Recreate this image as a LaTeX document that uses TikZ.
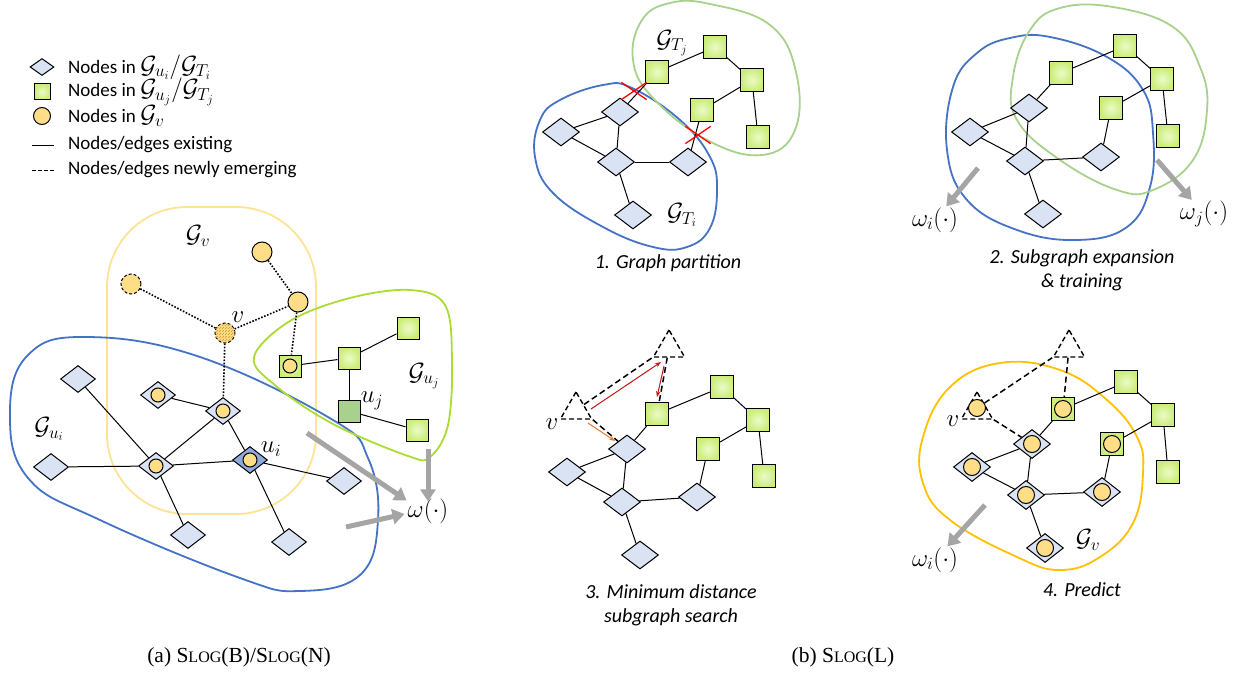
\documentclass[tikz,border=0pt]{standalone}
\usepackage{fontspec}
\setmainfont{Liberation Serif}
\newfontfamily\carl{Carlito}
\usetikzlibrary{shapes.geometric,shapes.misc,arrows.meta,patterns}
\definecolor{diaC}{RGB}{218,227,243}
\definecolor{diaD}{RGB}{143,170,220}
\definecolor{sqI}{RGB}{236,251,200}
\definecolor{sqO}{RGB}{203,237,122}
\definecolor{sqD}{RGB}{169,209,142}
\definecolor{cirC}{RGB}{255,222,135}
\definecolor{blueR}{RGB}{68,114,196}
\definecolor{limeR}{RGB}{170,220,50}
\definecolor{greenR}{RGB}{169,209,142}
\definecolor{yelR}{RGB}{255,226,150}
\definecolor{orR}{RGB}{255,192,0}
\definecolor{grayA}{RGB}{165,165,165}
\definecolor{hatchC}{RGB}{205,150,40}
\definecolor{redA}{RGB}{200,20,20}
\definecolor{orA}{RGB}{237,125,49}
\tikzset{
  dia/.style={diamond, draw, fill=diaC, line width=1pt, minimum width=35pt, minimum height=27pt, inner sep=0pt},
  sq/.style={rectangle, draw, inner color=sqI, outer color=sqO, line width=1pt, minimum size=22pt, inner sep=0pt},
  cir/.style={circle, draw, fill=cirC, line width=1pt, minimum size=20pt, inner sep=0pt},
  cirS/.style={circle, draw, fill=cirC, line width=1pt, minimum size=14pt, inner sep=0pt},
  tri/.style={regular polygon, regular polygon sides=3, draw, dashed, line width=1.4pt, dash pattern=on 5pt off 3pt, minimum size=36pt, inner sep=0pt},
  lnk/.style={line width=1pt},
  dotlnk/.style={line width=1.6pt, dash pattern=on 1.6pt off 1.6pt},
  dlnk/.style={line width=1.5pt, dash pattern=on 6pt off 3.5pt},
  region/.style={line width=1.8pt},
  garrow/.style={line width=5pt, draw=grayA, -{Triangle[length=12pt,width=15pt]}},
  txt/.style={font=\carl\fontsize{19}{22}\selectfont, inner sep=1pt},
  captxt/.style={font=\carl\itshape\fontsize{20}{24}\selectfont, align=center, inner sep=1pt},
  lbl/.style={font=\fontsize{23}{27}\selectfont, inner sep=1pt},
  capt/.style={font=\fontsize{21.5}{26}\selectfont, inner sep=1pt},
  xmark/.style={cross out, draw=red, line width=1.3pt, minimum width=24pt, minimum height=16pt, inner sep=0pt}
}
\newcommand{\slogname}{S{\fontsize{16}{18}\selectfont LOG}}
\newcommand{\legmath}[1]{{\fontsize{23}{24}\selectfont$#1$}}
\begin{document}
\begin{tikzpicture}[x=1pt,y=-1pt]
\useasboundingbox (0,0) rectangle (1238,674);

% ================= legend =================
\node[dia, minimum width=24pt, minimum height=17pt] (ld) at (42,67) {};
\node[txt, anchor=west] (lt1) at (67,67) {Nodes in \legmath{\mathcal{G}_{u_i}/\mathcal{G}_{T_i}}};
\node[sq, minimum size=16pt] (ls) at (42,92) {};
\node[txt, anchor=west] (lt2) at (67,92) {Nodes in \legmath{\mathcal{G}_{u_j}/\mathcal{G}_{T_j}}};
\node[cir, minimum size=17pt] (lc) at (42,116) {};
\node[txt, anchor=west] (lt3) at (67,116) {Nodes in \legmath{\mathcal{G}_v}};
\coordinate (la1) at (32,145); \coordinate (lb1) at (54,145);
\draw[lnk] (la1) -- (lb1);
\node[txt, anchor=west] (lt4) at (67,145) {Nodes/edges existing};
\coordinate (la2) at (32,170); \coordinate (lb2) at (54,170);
\draw[lnk, dash pattern=on 3.5pt off 2.5pt] (la2) -- (lb2);
\node[txt, anchor=west] (lt5) at (67,170) {Nodes/edges newly emerging};

% ================= panel (a) =================
\draw[region, draw=yelR, rounded corners=80pt] (107,207) rectangle (316,514);
\draw[region, draw=blueR] plot[smooth cycle, tension=0.7] coordinates {(87,337) (200,357) (333,420) (368,458) (378,520) (360,575) (300,591) (240,578) (100,520) (28,478) (10,413) (28,355)};
\draw[region, draw=limeR] plot[smooth cycle, tension=0.6] coordinates {(254,357) (290,321) (350,298) (410,290) (445,305) (452,360) (448,425) (430,457) (408,456) (333,424) (276,386)};

\node[cir] (c1) at (262,252) {};
\node[cir] (c2) at (298,302) {};
\node[cir, dashed, dash pattern=on 3pt off 2pt] (c3) at (131,284) {};
\node[cir, dashed, dash pattern=on 3pt off 2pt, postaction={pattern=north east lines, pattern color=hatchC}] (cv) at (225,333) {};

\node[sq] (s1) at (290,366) {}; \node[cirS] (s1c) at (290,366) {};
\node[sq] (s2) at (349,358) {};
\node[sq] (s3) at (408,328) {};
\node[sq, inner color=sqD, outer color=sqD] (suj) at (349,411) {};
\node[sq] (s4) at (417,430) {};

\node[dia] (d1) at (78,379) {};
\node[dia] (d2) at (158,395) {}; \node[cirS] (d2c) at (158,395) {};
\node[dia] (d3) at (223,411) {}; \node[cirS] (d3c) at (223,411) {};
\node[dia] (d4) at (51,467) {};
\node[dia] (d5) at (156,466) {}; \node[cirS] (d5c) at (156,466) {};
\node[dia, fill=diaD] (dui) at (250,460) {}; \node[cirS] (duic) at (250,460) {};
\node[dia] (d6) at (344,481) {};
\node[dia] (d7) at (188,535) {};
\node[dia] (d8) at (289,542) {};

\draw[dotlnk] (c1) -- (c2);
\draw[dotlnk] (c3) -- (cv);
\draw[dotlnk] (cv) -- (c2);
\draw[dotlnk] (c2) -- (s1);
\draw[dotlnk] (cv) -- (d3);

\draw[lnk] (s1) -- (s2);
\draw[lnk] (s2) -- (s3);
\draw[lnk] (s2) -- (suj);
\draw[lnk] (suj) -- (s4);

\draw[lnk] (d1) -- (d5);
\draw[lnk] (d2) -- (d3);
\draw[lnk] (d3) -- (d5);
\draw[lnk] (d3) -- (dui);
\draw[lnk] (d4) -- (d5);
\draw[lnk] (d5) -- (dui);
\draw[lnk] (dui) -- (d6);
\draw[lnk] (d5) -- (d7);
\draw[lnk] (dui) -- (d8);

\node[lbl] (lv) at (238,317) {$v$};
\node[lbl] (lgv) at (198,236) {$\mathcal{G}_v$};
\node[lbl] (lgui) at (49,429) {$\mathcal{G}_{u_i}$};
\node[lbl] (lguj) at (424,376) {$\mathcal{G}_{u_j}$};
\node[lbl] (luj) at (372,401) {$u_j$};
\node[lbl] (lui) at (271,449) {$u_i$};
\node[lbl] (om) at (428,511) {$\omega(\cdot)$};

\coordinate (ga1) at (307,433);
\coordinate (ga2) at (428,449);
\coordinate (ga3) at (346,527);
\draw[garrow] (ga1) -- ([yshift=-3pt]om.north west);
\draw[garrow] (ga2) -- ([xshift=0pt,yshift=-4pt]om.north);
\draw[garrow] (ga3) -- ([xshift=-2pt,yshift=-3pt]om.west);

\node[capt] (capa) at (239,657) {(a) \slogname(B)/\slogname(N)};

% ================= panel 1 =================
\draw[region, draw=blueR] plot[smooth cycle, tension=0.7] coordinates {(560,100) (603,85) (632,88) (680,120) (710,157) (717,190) (710,228) (687,247) (653,247) (603,227) (553,193) (535,157) (540,120)};
\draw[region, draw=greenR] plot[smooth cycle, tension=0.7] coordinates {(633,60) (642,20) (670,3) (710,4) (770,25) (796,72) (795,130) (762,155) (707,140) (653,98)};

\node[sq, minimum size=23pt] (s11) at (657,72) {};
\node[sq, minimum size=23pt] (s12) at (715,47) {};
\node[sq, minimum size=23pt] (s13) at (752,80) {};
\node[sq, minimum size=23pt] (s14) at (702,110) {};
\node[sq, minimum size=23pt] (s15) at (758,137) {};
\node[dia, minimum width=37pt, minimum height=28pt] (d11) at (620,112) {};
\node[dia, minimum width=37pt, minimum height=28pt] (d12) at (561,132) {};
\node[dia, minimum width=37pt, minimum height=28pt] (d13) at (616,162) {};
\node[dia, minimum width=37pt, minimum height=28pt] (d14) at (688,162) {};
\node[dia, minimum width=37pt, minimum height=28pt] (d15) at (633,215) {};
\draw[lnk] (s11) -- (s12);
\draw[lnk] (s12) -- (s13);
\draw[lnk] (s13) -- (s14);
\draw[lnk] (s13) -- (s15);
\draw[lnk] (d12) -- (d11);
\draw[lnk] (d12) -- (d13);
\draw[lnk] (d11) -- (d13);
\draw[lnk] (d13) -- (d14);
\draw[lnk] (d13) -- (d15);
\draw[lnk] (d11) -- (s11);
\draw[lnk] (d14) -- (s14);
\node[xmark] (x1) at (634,91) {};
\node[xmark] (x2) at (698,135) {};
\node[lbl] (lgtj) at (672,43) {$\mathcal{G}_{T_j}$};
\node[lbl] (lgti) at (682,215) {$\mathcal{G}_{T_i}$};
\node[captxt] (cap1) at (668,263) {1. Graph partition};

% ================= panel 2 =================
\draw[region, draw=blueR] plot[smooth cycle, tension=0.7] coordinates {(1010,38) (1050,37) (1107,57) (1143,90) (1153,133) (1150,187) (1127,227) (1077,240) (1017,230) (967,200) (947,150) (953,87) (977,53)};
\draw[region, draw=greenR] plot[smooth cycle, tension=0.7] coordinates {(1013,77) (1030,30) (1060,8) (1113,7) (1173,27) (1200,67) (1207,110) (1193,160) (1153,190) (1117,190) (1060,160) (1017,120)};

\node[sq, minimum size=23pt] (s21) at (1061,73) {};
\node[sq, minimum size=23pt] (s22) at (1125,46) {};
\node[sq, minimum size=23pt] (s23) at (1162,79) {};
\node[sq, minimum size=23pt] (s24) at (1111,108) {};
\node[sq, minimum size=23pt] (s25) at (1168,136) {};
\node[dia, minimum width=37pt, minimum height=28pt] (d21) at (1029,108) {};
\node[dia, minimum width=37pt, minimum height=28pt] (d22) at (970,132) {};
\node[dia, minimum width=37pt, minimum height=28pt] (d23) at (1025,161) {};
\node[dia, minimum width=37pt, minimum height=28pt] (d24) at (1101,157) {};
\node[dia, minimum width=37pt, minimum height=28pt] (d25) at (1043,214) {};
\draw[lnk] (s21) -- (s22);
\draw[lnk] (s22) -- (s23);
\draw[lnk] (s23) -- (s24);
\draw[lnk] (s23) -- (s25);
\draw[lnk] (d21) -- (s21);
\draw[lnk] (d22) -- (d21);
\draw[lnk] (d22) -- (d23);
\draw[lnk] (d21) -- (d23);
\draw[lnk] (d23) -- (d24);
\draw[lnk] (d24) -- (s24);
\draw[lnk] (d23) -- (d25);
\node[lbl] (om2i) at (935,220) {$\omega_i(\cdot)$};
\node[lbl] (om2j) at (1204,214) {$\omega_j(\cdot)$};
\coordinate (gb1) at (978,168);
\coordinate (gb2) at (1157,160);
\draw[garrow] (gb1) -- (om2i);
\draw[garrow] (gb2) -- (om2j);
\node[captxt] (cap2) at (1082,270) {2. Subgraph expansion\\\& training};

% ================= panel 3 =================
\node[sq, minimum size=23pt] (s31) at (657,414) {};
\node[sq, minimum size=23pt] (s32) at (722,387) {};
\node[sq, minimum size=23pt] (s33) at (758,420) {};
\node[sq, minimum size=23pt] (s34) at (708,449) {};
\node[sq, minimum size=23pt] (s35) at (764,476) {};
\node[dia, minimum width=37pt, minimum height=28pt] (d31) at (627,449) {};
\node[dia, minimum width=37pt, minimum height=28pt] (d32) at (567,472) {};
\node[dia, minimum width=37pt, minimum height=28pt] (d33) at (622,502) {};
\node[dia, minimum width=37pt, minimum height=28pt] (d34) at (697,497) {};
\node[dia, minimum width=37pt, minimum height=28pt] (d35) at (640,555) {};
\node[tri] (t3) at (669,348) {};
\node[tri] (v3) at (576,410) {};
\draw[lnk] (d31) -- (s31);
\draw[lnk] (s31) -- (s32);
\draw[lnk] (s32) -- (s33);
\draw[lnk] (s33) -- (s34);
\draw[lnk] (s33) -- (s35);
\draw[lnk] (d32) -- (d31);
\draw[lnk] (d32) -- (d33);
\draw[lnk] (d31) -- (d33);
\draw[lnk] (d33) -- (d34);
\draw[lnk] (d34) -- (s34);
\draw[lnk] (d33) -- (d35);
\draw[dlnk] (v3) -- (t3.corner 2);
\draw[dlnk] (t3) -- (s31);
\draw[dlnk] (v3.corner 3) -- (d31);
\coordinate (r1s) at (591,409); \coordinate (r1e) at (661,362);
\coordinate (r2s) at (664,366); \coordinate (r2e) at (657,397);
\coordinate (o1s) at (588,423); \coordinate (o1e) at (615,441);
\draw[redA, line width=1pt, -{Stealth[length=6pt,width=4.5pt]}] (r1s) -- (r1e);
\draw[redA, line width=1pt, -{Stealth[length=6pt,width=4.5pt]}] (r2s) -- (r2e);
\draw[orA, line width=1pt, -{Stealth[length=6pt,width=4.5pt]}] (o1s) -- (o1e);
\node[lbl] (lv3) at (552,424) {$v$};
\node[captxt] (cap3) at (671,605) {3. Minimum distance\\subgraph search};

% ================= panel 4 =================
\draw[region, draw=orR] plot[smooth cycle, tension=0.7] coordinates {(923,437) (950,387) (1000,363) (1060,370) (1107,400) (1137,437) (1143,473) (1133,523) (1100,557) (1060,570) (1017,557) (950,520) (923,483)};

\node[sq, minimum size=23pt] (s41) at (1063,409) {}; \node[cirS, minimum size=17pt] (s41c) at (1063,409) {};
\node[sq, minimum size=23pt] (s42) at (1126,382) {};
\node[sq, minimum size=23pt] (s43) at (1163,415) {};
\node[sq, minimum size=23pt] (s44) at (1112,444) {}; \node[cirS, minimum size=17pt] (s44c) at (1112,444) {};
\node[sq, minimum size=23pt] (s45) at (1168,472) {};
\node[dia, minimum width=37pt, minimum height=29pt] (d41) at (1032,444) {}; \node[cirS, minimum size=17pt] (d41c) at (1032,444) {};
\node[dia, minimum width=37pt, minimum height=29pt] (d42) at (972,467) {}; \node[cirS, minimum size=17pt] (d42c) at (972,467) {};
\node[dia, minimum width=37pt, minimum height=29pt] (d43) at (1026,495) {}; \node[cirS, minimum size=17pt] (d43c) at (1026,495) {};
\node[dia, minimum width=37pt, minimum height=29pt] (d44) at (1102,492) {}; \node[cirS, minimum size=17pt] (d44c) at (1102,492) {};
\node[dia, minimum width=37pt, minimum height=29pt] (d45) at (1045,548) {}; \node[cirS, minimum size=17pt] (d45c) at (1045,548) {};
\node[tri] (t4) at (1069,348) {};
\node[tri] (v4) at (977,410) {};
\node[cirS, minimum size=17pt] (v4c) at (977,408) {};
\draw[lnk] (d41) -- (s41);
\draw[lnk] (s41) -- (s42);
\draw[lnk] (s42) -- (s43);
\draw[lnk] (s43) -- (s44);
\draw[lnk] (s43) -- (s45);
\draw[lnk] (d42) -- (d41);
\draw[lnk] (d42) -- (d43);
\draw[lnk] (d41) -- (d43);
\draw[lnk] (d43) -- (d44);
\draw[lnk] (d44) -- (s44);
\draw[lnk] (d43) -- (d45);
\draw[dlnk] (v4c) -- (t4.corner 2);
\draw[dlnk] (t4) -- (s41);
\draw[dlnk] (v4.corner 3) -- (d41);
\node[lbl] (lv4) at (953,421) {$v$};
\node[lbl] (lgv4) at (1088,540) {$\mathcal{G}_v$};
\node[lbl] (om4) at (935,560) {$\omega_i(\cdot)$};
\coordinate (gc1) at (985,505);
\draw[garrow] (gc1) -- (om4);
\node[captxt] (cap4) at (1082,590) {4. Predict};

\node[capt] (capb) at (843,657) {(b) \slogname(L)};
\end{tikzpicture}
\end{document}
